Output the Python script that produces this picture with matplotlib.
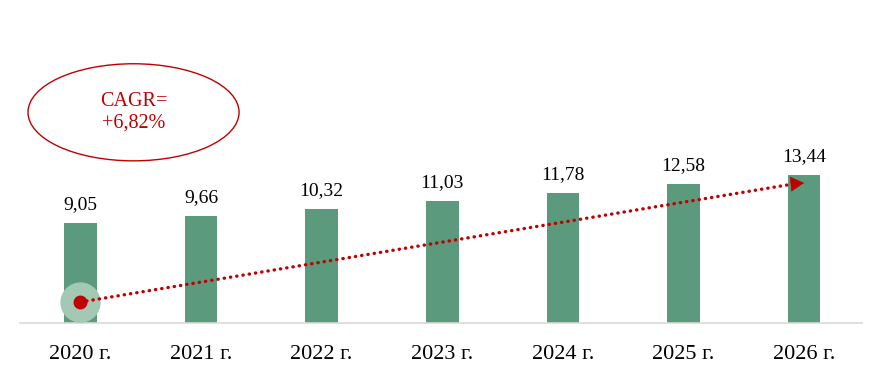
import matplotlib.pyplot as plt
from matplotlib.patches import Ellipse

years = ["2020 г.", "2021 г.", "2022 г.", "2023 г.", "2024 г.", "2025 г.", "2026 г."]
values = [9.05, 9.66, 10.32, 11.03, 11.78, 12.58, 13.44]
value_labels = ["9,05", "9,66", "10,32", "11,03", "11,78", "12,58", "13,44"]
cagr_text = "CAGR=\n+6,82%"
trend_start = 1.9
trend_end = 12.7

BAR_COLOR = "#5B9A7D"
RED = "#C00000"

plt.rcParams["font.family"] = ["Liberation Serif", "DejaVu Serif"]

fig = plt.figure(figsize=(8.76, 3.83), dpi=100)
ax = fig.add_axes([0.023, 1 - 323 / 383, 0.961, 323 / 383])

x = list(range(len(years)))
ax.bar(x, values, width=0.27, color=BAR_COLOR, zorder=2)

for xi, v, lab in zip(x, values, value_labels):
    ax.text(xi, v + 0.9, lab, ha="center", va="bottom", fontsize=14, color="black")

ax.set_xlim(-0.5, 6.48)
ax.set_ylim(0, 29.28)

# trend line (dotted) + arrow head
ax.plot([x[0], x[-1] - 0.08], [trend_start, trend_end - 0.08], color=RED,
        linewidth=2.4, linestyle=(0, (0.1, 1.8)), dash_capstyle="round", zorder=4)
ax.annotate("", xy=(x[-1], trend_end), xytext=(x[-1] - 0.1, trend_end - 0.1),
            arrowprops=dict(arrowstyle="-|>,head_length=0.9,head_width=0.5",
                            color=RED, linewidth=0.5, shrinkA=0, shrinkB=0),
            zorder=4)
ax.plot([x[0]], [trend_start], "o", markersize=28, color="#A3C9B5", zorder=3)
ax.plot([x[0]], [trend_start], "o", markersize=9, color=RED, zorder=5)

# CAGR ellipse
ell = Ellipse((0.44, 19.1), width=1.75, height=8.8, fill=False,
              edgecolor=RED, linewidth=1.0, zorder=3)
ax.add_patch(ell)
ax.text(0.44, 19.1, cagr_text, ha="center", va="center", fontsize=14.5,
        color=RED, linespacing=1.2)

ax.set_xticks(x)
ax.set_xticklabels(years, fontsize=16)
ax.tick_params(axis="x", length=0, pad=16)
ax.set_yticks([])
for side in ["top", "right", "left"]:
    ax.spines[side].set_visible(False)
ax.spines["bottom"].set_color("#D9D9D9")
ax.spines["bottom"].set_linewidth(1.2)

fig.savefig("out.png", dpi=100)
